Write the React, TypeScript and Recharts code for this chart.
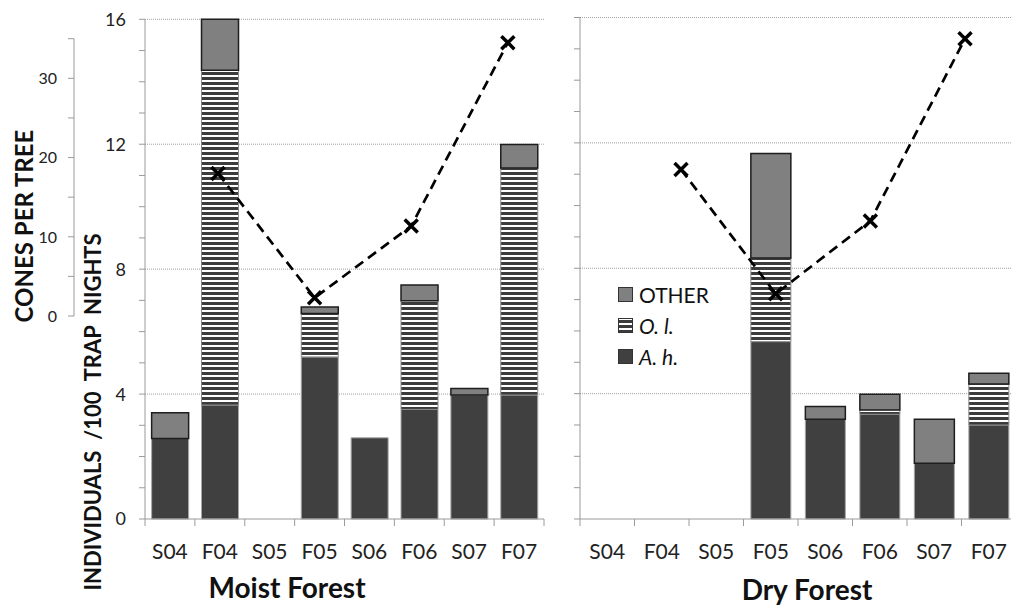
import React from 'react';
import { ComposedChart, Bar, Line, XAxis, YAxis, CartesianGrid, Legend } from 'recharts';

const seasons = ['S04', 'F04', 'S05', 'F05', 'S06', 'F06', 'S07', 'F07'];

const moistAh = [2.58, 3.65, 0, 5.19, 2.6, 3.51, 3.97, 3.97];
const moistOl = [0, 10.72, 0, 1.39, 0, 3.48, 0, 7.27];
const moistOther = [0.82, 1.63, 0, 0.21, 0, 0.5, 0.21, 0.75];
const moistCones = [null, 18.0, null, 2.3, null, 11.35, null, 34.5];

const dryAh = [0, 0, 0, 5.66, 3.18, 3.34, 1.78, 3.0];
const dryOl = [0, 0, 0, 2.67, 0, 0.14, 0, 1.31];
const dryOther = [0, 0, 0, 3.33, 0.41, 0.5, 1.4, 0.34];
const dryCones = [null, 18.5, null, 2.8, null, 12.0, null, 35.0];

const individualTicks = [0, 1, 2, 3, 4, 5, 6, 7, 8, 9, 10, 11, 12, 13, 14, 15, 16];
const individualLabels = [0, 4, 8, 12, 16];
const gridValues = [4, 8, 12, 16];
const coneTicks = [0, 5, 10, 15, 20, 25, 30, 35];
const coneLabels = [0, 10, 20, 30];

const legendLabels: Record<string, string> = { other: 'OTHER', ol: 'O. l.', ah: 'A. h.' };
const legendItalic: Record<string, boolean> = { other: false, ol: true, ah: true };

const build = (ah: number[], ol: number[], other: number[], cones: (number | null)[]) =>
  seasons.map((s, i) => ({ season: s, ah: ah[i], ol: ol[i], other: other[i], cones: cones[i] }));

const moistData = build(moistAh, moistOl, moistOther, moistCones);
const dryData = build(dryAh, dryOl, dryOther, dryCones);

const FONT = 'Lato, "Open Sans", sans-serif';
const AXIS = '#9a9a9a';
const AH = '#404040';
const OTHER = '#808080';

const IndTick = (showLabels: boolean) => (props: any) => {
  const { x, y, payload } = props;
  if (!showLabels || !individualLabels.includes(payload.value)) return <g />;
  return (
    <text x={x} y={y} dy="0.36em" textAnchor="end" fontSize={18} fontFamily={FONT} fill="#222">
      {payload.value}
    </text>
  );
};

const ConeTick = (props: any) => {
  const { x, y, payload } = props;
  if (!coneLabels.includes(payload.value)) return <g />;
  return (
    <text x={x} y={y} dy="0.36em" textAnchor="end" fontSize={16} fontFamily={FONT} fill="#222">
      {payload.value}
    </text>
  );
};

const CatTick = (isLast: (v: string) => boolean) => (props: any) => {
  const { x, y, payload } = props;
  const off = payload.offset ?? 25;
  return (
    <g>
      <line x1={x - off} x2={x - off} y1={y} y2={y + 7} stroke={AXIS} />
      {isLast(payload.value) && <line x1={x + off} x2={x + off} y1={y} y2={y + 7} stroke={AXIS} />}
      <text x={x} y={y + 40} textAnchor="middle" fontSize={21} fontFamily={FONT} fill="#222">
        {payload.value}
      </text>
    </g>
  );
};

const XDot = (props: any) => {
  const { cx, cy } = props;
  if (cx == null || cy == null || isNaN(cx) || isNaN(cy)) return <g key={props.key ?? props.index} />;
  const r = 6.5;
  return (
    <path
      key={props.key ?? props.index}
      d={`M${cx - r},${cy - r}L${cx + r},${cy + r}M${cx + r},${cy - r}L${cx - r},${cy + r}`}
      stroke="#000"
      strokeWidth={3.5}
      fill="none"
    />
  );
};

const Swatch = ({ k }: { k: string }) => {
  const fill = k === 'ah' ? AH : k === 'other' ? OTHER : 'url(#olStripes)';
  return (
    <svg width={15} height={15} style={{ display: 'block' }}>
      <rect x={0.5} y={0.5} width={14} height={14} fill={fill} stroke="#333" strokeWidth={1} />
    </svg>
  );
};

const renderLegend = (props: any) => {
  const items = [...(props.payload || [])].reverse();
  return (
    <div style={{ fontFamily: FONT }}>
      {items.map((it: any) => {
        const k = it.dataKey as string;
        return (
          <div key={k} style={{ display: 'flex', alignItems: 'center', height: 31 }}>
            <Swatch k={k} />
            <span
              style={{
                marginLeft: 6,
                fontSize: 21,
                color: '#111',
                fontStyle: legendItalic[k] ? 'italic' : 'normal',
              }}
            >
              {legendLabels[k]}
            </span>
          </div>
        );
      })}
    </div>
  );
};

const bars = () => [
  <Bar key="ah" dataKey="ah" stackId="a" fill={AH} stroke="#a8a8a8" strokeWidth={1} isAnimationActive={false} />,
  <Bar key="ol" dataKey="ol" stackId="a" fill="url(#olStripes)" stroke="#8a8a8a" strokeWidth={1} isAnimationActive={false} />,
  <Bar key="other" dataKey="other" stackId="a" fill={OTHER} stroke="#1e1e1e" strokeWidth={1.5} isAnimationActive={false} />,
];

export default function App() {
  return (
    <div
      style={{
        position: 'absolute',
        left: 0,
        top: 0,
        width: 1011,
        height: 605,
        overflow: 'hidden',
        background: '#fff',
        fontFamily: FONT,
      }}
    >
      <svg width={0} height={0} style={{ position: 'absolute' }}>
        <defs>
          <pattern id="olStripes" patternUnits="userSpaceOnUse" width={8} height={5}>
            <rect x={0} y={0} width={8} height={5} fill="#ffffff" />
            <rect x={0} y={2} width={8} height={3} fill="#3c3c3c" />
          </pattern>
        </defs>
      </svg>

      {/* Moist forest bars */}
      <div style={{ position: 'absolute', left: 0, top: 0 }}>
        <ComposedChart
          width={560}
          height={605}
          data={moistData}
          margin={{ top: 19.3, right: 16, left: 85, bottom: 0 }}
          barCategoryGap="13.3%"
        >
          <CartesianGrid vertical={false} horizontalValues={gridValues} stroke="#a0a0a0" strokeDasharray="1 1" />
          <XAxis
            dataKey="season"
            interval={0}
            height={86}
            tickLine={false}
            tickSize={0}
            tickMargin={0}
            axisLine={{ stroke: AXIS }}
            tick={CatTick((v) => v === 'F07')}
          />
          <YAxis
            width={60}
            domain={[0, 16]}
            ticks={individualTicks}
            interval={0}
            tickSize={6}
            tickMargin={13}
            axisLine={{ stroke: AXIS }}
            tickLine={{ stroke: AXIS }}
            tick={IndTick(true)}
          />
          {bars()}
        </ComposedChart>
      </div>

      {/* Dry forest bars */}
      <div style={{ position: 'absolute', left: 0, top: 0 }}>
        <ComposedChart
          width={1030}
          height={605}
          data={dryData}
          margin={{ top: 17.5, right: 14, left: 520, bottom: 0 }}
          barCategoryGap="13.5%"
        >
          <CartesianGrid vertical={false} horizontalValues={gridValues} stroke="#a0a0a0" strokeDasharray="1 1" />
          <XAxis
            dataKey="season"
            interval={0}
            height={86}
            tickLine={false}
            tickSize={0}
            tickMargin={0}
            axisLine={{ stroke: AXIS }}
            tick={CatTick(() => false)}
          />
          <YAxis
            width={60}
            domain={[0, 16]}
            ticks={individualTicks}
            interval={0}
            tickSize={6}
            tickMargin={13}
            axisLine={{ stroke: AXIS }}
            tickLine={{ stroke: AXIS }}
            tick={IndTick(false)}
          />
          <Legend
            layout="vertical"
            verticalAlign="middle"
            align="center"
            content={renderLegend}
            wrapperStyle={{ left: 618, top: 279, width: 120 }}
          />
          {bars()}
        </ComposedChart>
      </div>

      {/* Moist forest cones line */}
      <div style={{ position: 'absolute', left: 0, top: 0 }}>
        <ComposedChart width={560} height={605} data={moistData} margin={{ top: 38.7, right: 28, left: 14, bottom: 289 }}>
          <XAxis dataKey="season" hide scale="band" padding={{ left: 71.5, right: 0 }} />
          <YAxis
            width={60}
            domain={[0, 35]}
            ticks={coneTicks}
            interval={0}
            tickSize={6}
            tickMargin={11}
            axisLine={{ stroke: AXIS }}
            tickLine={{ stroke: AXIS }}
            tick={ConeTick}
          />
          <Line
            dataKey="cones"
            stroke="#000"
            strokeWidth={2.7}
            strokeDasharray="10 6"
            connectNulls
            dot={XDot}
            activeDot={false}
            isAnimationActive={false}
          />
        </ComposedChart>
      </div>

      {/* Dry forest cones line */}
      <div style={{ position: 'absolute', left: 0, top: 0 }}>
        <ComposedChart width={1011} height={605} data={dryData} margin={{ top: 38.7, right: 22.3, left: 610, bottom: 289 }}>
          <XAxis dataKey="season" hide scale="band" />
          <YAxis hide domain={[0, 35]} />
          <Line
            dataKey="cones"
            stroke="#000"
            strokeWidth={2.7}
            strokeDasharray="10 6"
            connectNulls
            dot={XDot}
            activeDot={false}
            isAnimationActive={false}
          />
        </ComposedChart>
      </div>

      {/* Titles */}
      <svg width={1011} height={605} style={{ position: 'absolute', left: 0, top: 0, pointerEvents: 'none' }}>
        <text
          transform="translate(33,226) rotate(-90)"
          textAnchor="middle"
          fontSize={24}
          fontWeight="bold"
          fontFamily={FONT}
          fill="#111"
        >
          CONES PER TREE
        </text>
        <text
          transform="translate(101,412) rotate(-90)"
          textAnchor="middle"
          fontSize={22}
          fontWeight="bold"
          fontFamily={FONT}
          fill="#111"
          style={{ whiteSpace: 'pre' }}
        >
          {'INDIVIDUALS  /100  TRAP  NIGHTS'}
        </text>
        <text x={287} y={598} textAnchor="middle" fontSize={28} fontWeight="bold" fontFamily={FONT} fill="#111">
          Moist Forest
        </text>
        <text x={807} y={600} textAnchor="middle" fontSize={28} fontWeight="bold" fontFamily={FONT} fill="#111">
          Dry Forest
        </text>
      </svg>
    </div>
  );
}
